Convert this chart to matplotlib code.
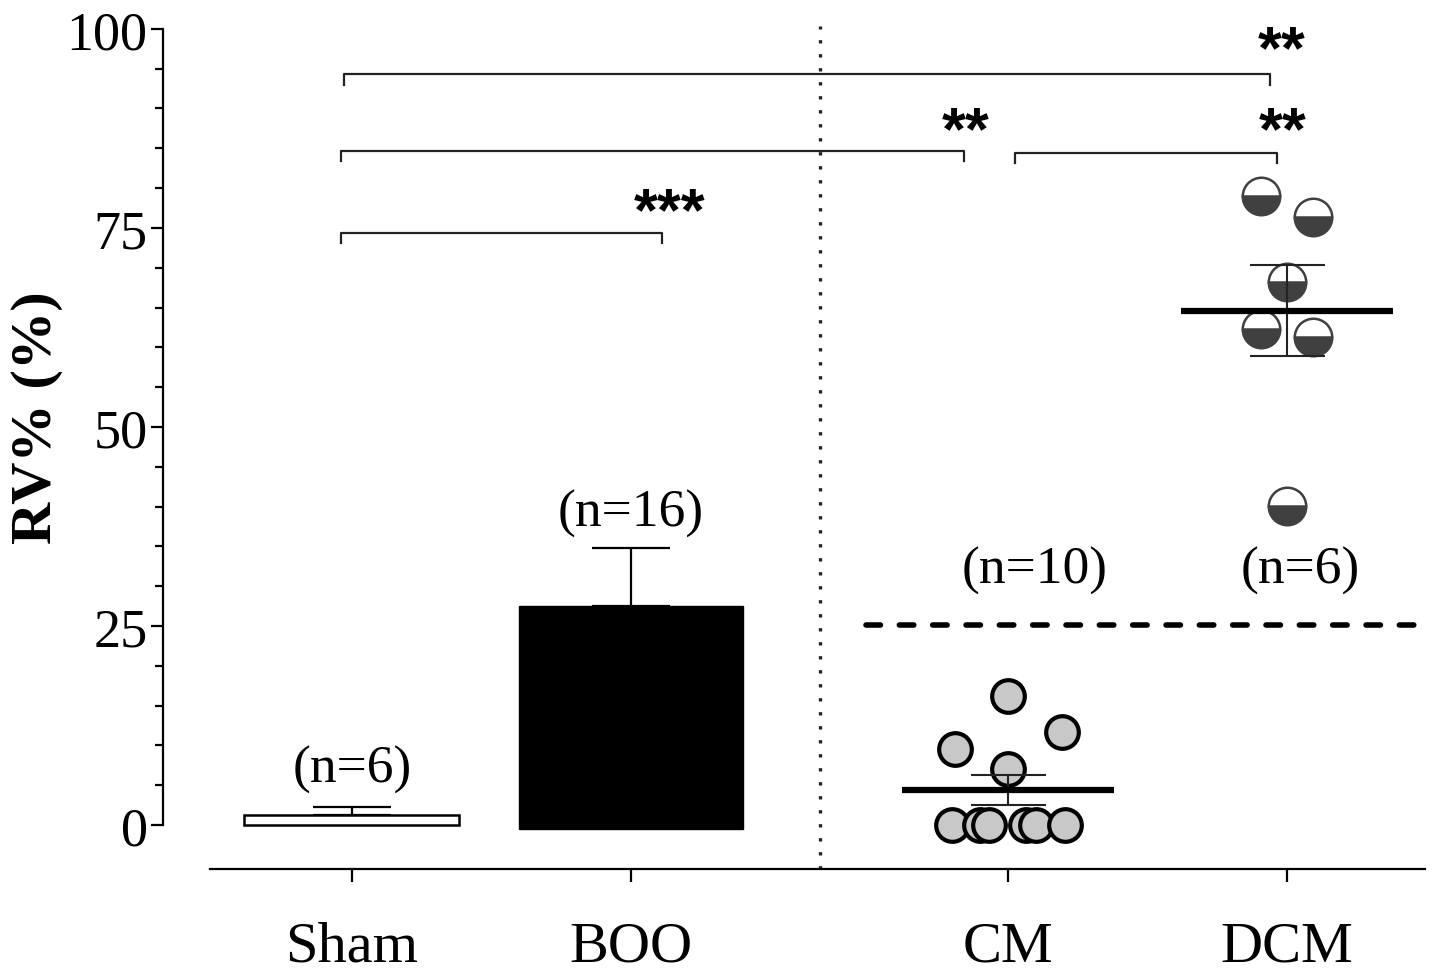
import matplotlib
matplotlib.use("Agg")
import matplotlib.pyplot as plt
from matplotlib.ticker import FixedLocator

# ---------------- data ----------------
groups = ["Sham", "BOO", "CM", "DCM"]
group_x = [0.0, 1.0, 2.351, 3.351]

bar_means = [1.2, 27.5]          # Sham, BOO
bar_sems = [1.1, 7.3]

cm_values = [16.2, 9.5, 11.7, 7.0, 0.0, 0.0, 0.0, 0.0, 0.0, 0.0]
cm_offsets = [0.0, -0.19, 0.194, 0.0, -0.201, -0.100, -0.068, 0.064, 0.100, 0.204]
cm_mean, cm_sem = 4.4, 1.9

dcm_values = [79.0, 76.4, 68.2, 62.3, 61.3, 40.1]
dcm_offsets = [-0.093, 0.093, 0.0, -0.093, 0.093, 0.0]
dcm_mean, dcm_sem = 64.6, 5.75

n_labels = ["(n=6)", "(n=16)", "(n=10)", "(n=6)"]
n_label_x = [0.0, 1.0, 2.448, 3.398]
n_label_y = [5.4, 37.6, 30.4, 30.4]

threshold = 25.1
y_major = [0, 25, 50, 75, 100]
y_minor = [v for v in range(0, 101, 5) if v % 25]

# brackets: (x_left, x_right, y, stars, star_x, star_y)
brackets = [
    (-0.029, 3.290, 94.3, "**", 3.331, 95.2),
    (-0.039, 2.194, 84.7, "**", 2.198, 85.0),
    (2.376, 3.315, 84.4, "**", 3.335, 85.0),
    (-0.039, 1.111, 74.4, "***", 1.137, 74.8),
]

# ---------------- figure ----------------
W, H = 1441, 979
fig = plt.figure(figsize=(W / 100, H / 100), dpi=100)
ax = fig.add_axes([163 / W, 109 / H, 1262 / W, 864 / H])
ax.set_xlim(-0.677, 3.846)
ax.set_ylim(-5.53, 103.0)

serif = "Liberation Serif"
sans = "Liberation Sans"

# bars
bar_w = [0.77, 0.80]
ax.bar(group_x[0], bar_means[0], width=bar_w[0], color="white", edgecolor="black",
       linewidth=1.8, zorder=2)
ax.bar(group_x[1], bar_means[1] + 0.5, bottom=-0.5, width=bar_w[1], color="black",
       edgecolor="black", linewidth=1.0, zorder=2)
for i in range(2):
    ax.errorbar(group_x[i], bar_means[i], yerr=[[0], [bar_sems[i]]], fmt="none",
                ecolor="black", elinewidth=1.6, capsize=28, capthick=1.6, zorder=1)

# CM scatter
cm_x = [group_x[2] + o for o in cm_offsets]
ax.plot(cm_x, cm_values, linestyle="none", marker="o", markersize=23.5,
        markerfacecolor="#c8c8c8", markeredgecolor="black", markeredgewidth=3.0,
        zorder=3)
# DCM scatter (half filled)
dcm_x = [group_x[3] + o for o in dcm_offsets]
ax.plot(dcm_x, dcm_values, linestyle="none", marker="o", markersize=27,
        fillstyle="bottom", markerfacecolor="#404040", markerfacecoloralt="white",
        markeredgecolor="#404040", markeredgewidth=1.8, zorder=3)

# mean + sem for scatter groups
for gx, m, s in [(group_x[2], cm_mean, cm_sem), (group_x[3], dcm_mean, dcm_sem)]:
    ax.plot([gx - 0.38, gx + 0.38], [m, m], color="black", linewidth=4.5,
            solid_capstyle="butt", zorder=5)
    ax.errorbar(gx, m, yerr=s, fmt="none", ecolor="#222222", elinewidth=1.5,
                capsize=27, capthick=1.5, zorder=4)

# threshold dashed line
ax.plot([1.842, 3.81], [threshold, threshold], color="black", linewidth=4.0,
        linestyle=(0, (2.6, 3.4)), dash_capstyle="round", zorder=2)

# dotted vertical separator
ax.plot([1.677, 1.677], [-5.53, 100.3], color="#222222", linewidth=2.4,
        linestyle=(0, (1, 3.2)), zorder=1, clip_on=False)

# significance brackets
tick_len = 1.3
for xl, xr, yb, stars, sx, sy in brackets:
    ax.plot([xl, xl, xr, xr], [yb - tick_len, yb, yb, yb - tick_len],
            color="#222222", linewidth=1.6, zorder=2)
    ax.text(sx, sy, stars, fontsize=44, fontweight="bold", family=sans,
            ha="center", va="baseline", zorder=6)

# n labels
for t, x, y in zip(n_labels, n_label_x, n_label_y):
    ax.text(x, y, t, fontsize=38.5, family=serif, ha="center", va="baseline")

# axes styling
for sp in ["top", "right"]:
    ax.spines[sp].set_visible(False)
ax.spines["left"].set_bounds(0, 100)
ax.spines["bottom"].set_bounds(-0.509, 3.846)
ax.spines["left"].set_linewidth(1.6)
ax.spines["bottom"].set_linewidth(1.6)

ax.yaxis.set_major_locator(FixedLocator(y_major))
ax.yaxis.set_minor_locator(FixedLocator(y_minor))
ax.set_xticks(group_x)
ax.set_xticklabels(groups, fontsize=42, family=serif)
ax.tick_params(axis="y", which="major", length=9, width=1.6, labelsize=39, pad=2)
ax.tick_params(axis="y", which="minor", length=6, width=1.6)
ax.tick_params(axis="x", which="major", length=9, width=1.6, pad=28)
for lab in ax.get_yticklabels():
    lab.set_family(serif)

ax.set_ylabel("RV% (%)", fontsize=42, fontweight="bold", family=serif)
ax.yaxis.set_label_coords((37 - 163) / 1262, (979 - 418 - 109) / 864)
ax.yaxis.label.set_verticalalignment("center")

fig.savefig("out.png", dpi=100)
